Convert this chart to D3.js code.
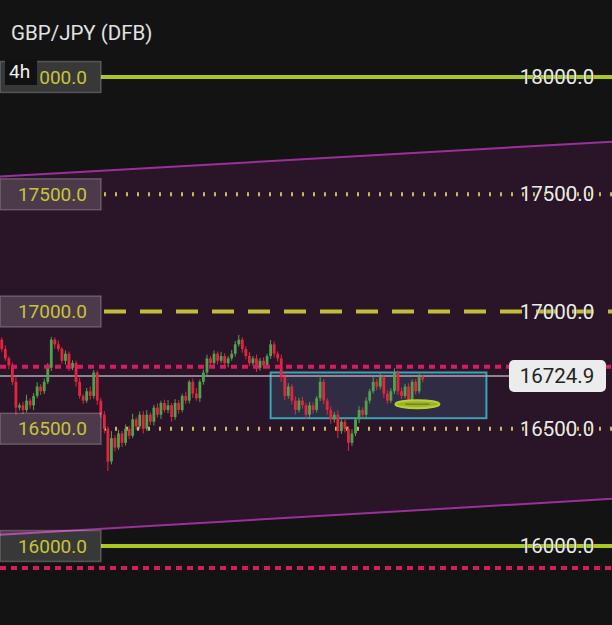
<!DOCTYPE html>
<html>
<head>
<meta charset="utf-8">
<script src="https://cdn.jsdelivr.net/npm/d3@7"></script>
<style>
  body { margin: 0; background: #131313; }
  svg { display: block; font-family: Roboto, "Noto Sans", sans-serif; }
</style>
</head>
<body>
<div id="chart"></div>
<script>
// chart data
var title = "GBP/JPY (DFB)";
var timeframe = "4h";
var levels = [18000, 17500, 17000, 16500, 16000];
var levelStyles = ["solid", "dotted", "dashed", "dotted", "solid"];
var lastPrice = 16724.9;
var pinkLevels = [16764, 15906];
var channelTop = [17576, 17724];
var channelBottom = [16048, 16201];
var zoneBox = {from: 76, to: 137, top: 16740, bottom: 16545};

var firstOpen = 16880;
var closes = [
  16840, 16800, 16770, 16700, 16590, 16600, 16580, 16620, 16600, 16640,
  16680, 16660, 16700, 16760, 16880, 16860, 16840, 16790, 16820, 16760,
  16780, 16700, 16640, 16620, 16660, 16640, 16740, 16620, 16560, 16500,
  16360, 16460, 16420, 16480, 16440, 16500, 16470, 16540, 16510, 16560,
  16500, 16560, 16530, 16590, 16560, 16610, 16580, 16600, 16550, 16610,
  16580, 16640, 16620, 16700, 16650, 16630, 16700, 16740, 16800, 16780,
  16820, 16790, 16810, 16780, 16800, 16820, 16860, 16880, 16840, 16810,
  16780, 16800, 16760, 16790, 16770, 16810, 16860, 16820, 16800, 16720,
  16640, 16680, 16620, 16580, 16620, 16600, 16560, 16600, 16580, 16630,
  16700, 16620, 16580, 16540, 16560, 16490, 16530, 16500, 16440, 16480,
  16540, 16580, 16560, 16620, 16660, 16700, 16680, 16720, 16650, 16620,
  16660, 16740, 16660, 16640, 16680, 16620, 16700, 16660, 16720, 16710
];
var wickUp = [
  10, 15, 8, 12, 20, 10, 15, 25, 10, 12, 18, 10, 14, 20, 12, 10, 16, 8, 14, 10,
  12, 10, 18, 8, 14, 20, 10, 8, 12, 15, 10, 30, 12, 16, 10, 18, 12, 24, 10, 14,
  16, 20, 10, 12, 18, 10, 14, 22, 10, 16, 12, 10, 18, 8, 14, 24, 10, 12, 16, 10,
  14, 10, 18, 12, 10, 16, 14, 20, 10, 12, 18, 10, 16, 12, 14, 10, 18, 12, 10, 16,
  20, 14, 10, 18, 12, 16, 10, 14, 12, 10, 30, 12, 10, 16, 12, 20, 10, 14, 12, 18,
  10, 16, 12, 14, 10, 24, 12, 16, 10, 14, 12, 18, 10, 16, 12, 14, 10, 12, 16, 10
];
var wickDn = [
  12, 10, 16, 14, 30, 12, 18, 10, 14, 20, 10, 16, 12, 10, 14, 18, 10, 12, 16, 14,
  10, 20, 12, 14, 10, 16, 12, 18, 14, 20, 40, 12, 16, 10, 18, 12, 14, 10, 16, 12,
  20, 10, 14, 16, 12, 18, 10, 14, 20, 12, 16, 10, 14, 12, 18, 10, 16, 12, 10, 14,
  12, 16, 10, 14, 18, 10, 12, 10, 16, 14, 12, 10, 18, 12, 14, 10, 12, 16, 14, 20,
  18, 12, 16, 20, 10, 14, 18, 12, 16, 10, 12, 16, 20, 18, 14, 30, 12, 16, 35, 14,
  12, 16, 10, 14, 12, 10, 16, 12, 18, 14, 10, 12, 16, 14, 10, 18, 12, 14, 10, 12
];

// build OHLC rows
var candles = closes.map(function(c, i) {
  var o = i === 0 ? firstOpen : closes[i - 1];
  return {i: i, o: o, c: c, h: Math.max(o, c) + wickUp[i], l: Math.min(o, c) - wickDn[i]};
});

var width = 612, height = 625;
var fmt = d3.format(".1f");

var svg = d3.select("#chart")
  .append("svg")
  .attr("width", width)
  .attr("height", height);

svg.append("rect").attr("width", width).attr("height", height).attr("fill", "#131313");

var x = d3.scaleLinear().domain([-0.5, 172.5]).range([0, width]);
var y = d3.scaleLinear().domain([16000, 18000]).range([546, 77]);

// channel fill
var chan = [
  [-0.5, channelTop[0]], [172.5, channelTop[1]],
  [172.5, channelBottom[1]], [-0.5, channelBottom[0]]
];
svg.append("path")
  .attr("d", d3.line().x(d => x(d[0])).y(d => y(d[1]))(chan) + "Z")
  .attr("fill", "#2a1427");

[channelTop, channelBottom].forEach(function(p) {
  svg.append("line")
    .attr("x1", x(-0.5)).attr("x2", x(172.5))
    .attr("y1", y(p[0])).attr("y2", y(p[1]))
    .attr("stroke", "#9c2f9a")
    .attr("stroke-width", 2);
});

// horizontal levels
var levelColor = {solid: "#a9c824", dashed: "#c2bd38", dotted: "#cbb95a"};
levels.forEach(function(lv, k) {
  var st = levelStyles[k];
  var ln = svg.append("line")
    .attr("x1", st === "solid" ? 101 : 104).attr("x2", width)
    .attr("y1", y(lv)).attr("y2", y(lv))
    .attr("stroke", levelColor[st]);
  if (st === "solid") ln.attr("stroke-width", 4);
  if (st === "dashed") ln.attr("stroke-width", 4).attr("stroke-dasharray", "22,14");
  if (st === "dotted") ln.attr("stroke-width", 4).attr("stroke-dasharray", "2,9");
});

// zone box
svg.append("rect")
  .attr("x", x(zoneBox.from)).attr("y", y(zoneBox.top))
  .attr("width", x(zoneBox.to) - x(zoneBox.from))
  .attr("height", y(zoneBox.bottom) - y(zoneBox.top))
  .attr("fill", "rgba(60,90,120,0.35)")
  .attr("stroke", "#3aa3b4")
  .attr("stroke-width", 2);

// last price line
svg.append("line")
  .attr("x1", 0).attr("x2", 510)
  .attr("y1", y(lastPrice)).attr("y2", y(lastPrice))
  .attr("stroke", "#b3a6b6")
  .attr("stroke-width", 1.5);

// candles
var bw = 2.8;
var g = svg.selectAll("g.candle")
  .data(candles)
  .enter()
  .append("g");

g.append("line")
  .attr("x1", d => x(d.i)).attr("x2", d => x(d.i))
  .attr("y1", d => y(d.h)).attr("y2", d => y(d.l))
  .attr("stroke", d => d.c >= d.o ? "#4fa34f" : "#e3263f")
  .attr("stroke-width", 1);

g.append("rect")
  .attr("x", d => x(d.i) - bw / 2)
  .attr("y", d => y(Math.max(d.o, d.c)))
  .attr("width", bw)
  .attr("height", d => Math.max(1, Math.abs(y(d.o) - y(d.c))))
  .attr("fill", d => d.c >= d.o ? "#4fa34f" : "#e3263f");

// pink dotted levels
pinkLevels.forEach(function(p) {
  svg.append("line")
    .attr("x1", 0).attr("x2", width)
    .attr("y1", y(p)).attr("y2", y(p))
    .attr("stroke", "#d81b60")
    .attr("stroke-width", 4)
    .attr("stroke-dasharray", "6,5");
});

// highlight ellipse
svg.append("ellipse")
  .attr("cx", x(117.5)).attr("cy", y(16605))
  .attr("rx", 22).attr("ry", 4)
  .attr("fill", "#9bb52a")
  .attr("stroke", "#b9cf35")
  .attr("stroke-width", 2);
svg.append("line")
  .attr("x1", x(117.5) - 12).attr("x2", x(117.5) + 12)
  .attr("y1", y(16605)).attr("y2", y(16605))
  .attr("stroke", "#5d6e1c")
  .attr("stroke-width", 1);

// left price labels (top one is partly covered by the timeframe tag)
levels.forEach(function(lv, k) {
  svg.append("rect")
    .attr("x", 0).attr("y", y(lv) - 15.5)
    .attr("width", 101).attr("height", 31)
    .attr("fill", "rgba(255,255,255,0.16)")
    .attr("stroke", "rgba(255,255,255,0.22)")
    .attr("stroke-width", 1.5);
  svg.append("text")
    .attr("x", 87).attr("y", y(lv))
    .attr("dy", "0.35em")
    .attr("text-anchor", "end")
    .attr("fill", "#c6c43a")
    .style("font-size", "19px")
    .text(k === 0 ? fmt(lv).slice(2) : fmt(lv));
});

// right price labels
levels.forEach(function(lv) {
  svg.append("text")
    .attr("x", 557).attr("y", y(lv))
    .attr("dy", "0.35em")
    .attr("text-anchor", "middle")
    .attr("fill", "#ececec")
    .attr("stroke", "#131313")
    .attr("stroke-width", 0.6)
    .attr("paint-order", "stroke")
    .style("font-size", "20.5px")
    .text(fmt(lv));
});

// last price tag
svg.append("rect")
  .attr("x", 509).attr("y", y(lastPrice) - 16)
  .attr("width", 97).attr("height", 32)
  .attr("rx", 5)
  .attr("fill", "#ececec");
svg.append("text")
  .attr("x", 557).attr("y", y(lastPrice))
  .attr("dy", "0.36em")
  .attr("text-anchor", "middle")
  .attr("fill", "#222")
  .style("font-size", "20.5px")
  .text(fmt(lastPrice));

// title and timeframe
svg.append("text")
  .attr("x", 11).attr("y", 40)
  .attr("fill", "#e2e2e2")
  .style("font-size", "20.5px")
  .text(title);

svg.append("rect")
  .attr("x", 5).attr("y", 59)
  .attr("width", 32).attr("height", 26)
  .attr("fill", "#111");
svg.append("text")
  .attr("x", 9).attr("y", 78)
  .attr("fill", "#f0f0f0")
  .style("font-size", "19px")
  .text(timeframe);
</script>
</body>
</html>
